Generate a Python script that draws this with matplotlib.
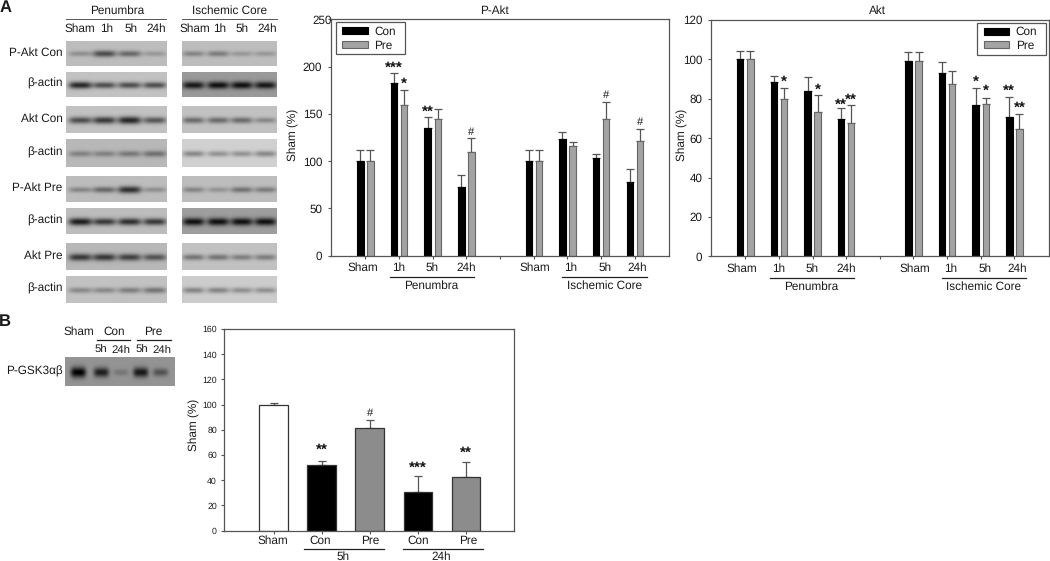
import numpy as np
import matplotlib
matplotlib.use("Agg")
import matplotlib.pyplot as plt
from matplotlib.patches import Rectangle
from matplotlib.transforms import ScaledTranslation

W, H = 1050, 561
plt.rcParams['font.family'] = ['Liberation Sans', 'DejaVu Sans']
plt.rcParams['font.size'] = 8.5
plt.rcParams['text.hinting'] = 'no_hinting'

# === Data ===
groups = [0, 1, 2, 3, 5, 6, 7, 8]
group_labels = ["Sham", "1h", "5h", "24h", "Sham", "1h", "5h", "24h"]
label_x = [-0.09, 0.99, 1.99, 3.0, 5.03, 6.1, 7.13, 8.07]

pakt_con = [100, 183, 135, 72.6, 100, 123, 103, 78]
pakt_con_top = [112, 193, 147, 85.6, 112, 130.5, 107, 91.6]
pakt_pre = [100, 159, 144, 109.7, 100, 116, 144, 121]
pakt_pre_top = [112, 175.5, 155, 124, 112, 120, 163, 134]
# (group, series, text, height)
pakt_marks = [(1, 0, "***", 200.6), (1, 1, "*", 183.7), (2, 0, "**", 154.8),
              (3, 1, "#", 132), (7, 1, "#", 170.6), (8, 1, "#", 142.8)]

akt_con = [100, 88.7, 83.8, 69.6, 99.4, 93, 76.8, 70.6]
akt_con_top = [104.3, 91.6, 90.9, 75.2, 103.8, 98.5, 85.3, 81]
akt_pre = [100, 79.7, 73.5, 67.9, 99.4, 87.5, 77.4, 64.7]
akt_pre_top = [104.3, 85.6, 81.8, 76.7, 103.8, 94.3, 80.4, 72.4]
akt_marks = [(1, 1, "*", 89.7), (2, 1, "*", 85.8), (3, 0, "**", 78.2), (3, 1, "**", 80.7),
             (7, 0, "*", 89.7), (7, 1, "*", 85), (8, 0, "**", 85.3), (8, 1, "**", 76.7)]

gsk_vals = [100, 52, 81.3, 31, 42.6]
gsk_top = [101.6, 55.6, 87.8, 43.4, 54.5]
gsk_colors = ["white", "black", "#8c8c8c", "black", "#8c8c8c"]
gsk_labels = ["Sham", "Con", "Pre", "Con", "Pre"]
gsk_label_x = [-0.03, 0.97, 2.0, 3.0, 4.05]
gsk_marks = [(1, "**", 66), (2, "#", 94), (3, "***", 51.6), (4, "**", 63.5)]

row_names = ["P-Akt Con", "β-actin", "Akt Con", "β-actin", "P-Akt Pre", "β-actin", "Akt Pre", "β-actin"]
row_tops = [41, 72, 106, 139, 176, 208, 243, 276]
row_bottoms = [66.5, 97, 133, 167, 202, 234, 270, 303]
pen_bg = [0.74, 0.76, 0.76, 0.72, 0.74, 0.74, 0.72, 0.76]
core_bg = [0.74, 0.60, 0.76, 0.82, 0.74, 0.62, 0.76, 0.80]
pen_bands = [[.25, .6, .45, .2], [.8, .6, .6, .6], [.6, .7, .8, .55], [.3, .3, .35, .4],
             [.3, .45, .75, .25], [.85, .7, .75, .7], [.7, .7, .65, .55], [.3, .3, .35, .4]]
core_bands = [[.3, .35, .2, .2], [.85, .9, .9, .85], [.45, .45, .45, .3], [.35, .3, .3, .35],
              [.3, .22, .4, .35], [.9, .9, .9, .9], [.4, .4, .35, .35], [.35, .35, .3, .3]]
gsk_blot = [1.0, .8, .2, .85, .45]
gsk_blot_x = [.12, .33, .51, .69, .87]

fig = plt.figure(figsize=(W / 100, H / 100), dpi=100)


def px_axes(l, t, r, b):
    return fig.add_axes([l / W, 1 - b / H, (r - l) / W, (b - t) / H])


def px_text(x, y, s, **kw):
    kw.setdefault("ha", "center")
    kw.setdefault("va", "center")
    fig.text(x / W, 1 - y / H, s, color="#1a1a1a", **kw)


def px_line(x0, x1, y, lw=0.9, color="#222222"):
    fig.add_artist(plt.Line2D([x0 / W, x1 / W], [1 - y / H, 1 - y / H], color=color, lw=lw))


def draw_blot(box, bg, bands, xs, sigma=0.085, half=0.115):
    ax = px_axes(*box)
    h, w = int(box[3] - box[1]) * 2, int(box[2] - box[0]) * 2
    yy, xx = np.mgrid[0:1:h * 1j, 0:1:w * 1j]
    img = np.full((h, w), float(bg))
    for pos, dark in zip(xs, bands):
        s = sigma * (0.7 + 0.6 * dark)
        shape = np.exp(-((xx - pos) / half) ** 4) * np.exp(-((yy - 0.53) / s) ** 2 / 2)
        img -= dark * bg * shape
    ax.imshow(img, cmap="gray", vmin=0, vmax=1, aspect="auto", interpolation="bilinear")
    ax.axis("off")


def style_axes(ax, ylim, yticks, tick_size, pad):
    ax.set_ylim(*ylim)
    ax.set_yticks(yticks)
    for s in ax.spines.values():
        s.set_color("#555555")
        s.set_linewidth(0.9)
    ax.tick_params(axis="y", length=2.5, width=0.8, color="#555555", labelsize=tick_size, pad=pad, labelcolor="#1a1a1a")
    ax.tick_params(axis="x", length=2.5, width=0.8, color="#555555", labelbottom=False)


def below(ax, x, dy, s, **kw):
    ax.annotate(s, (x, 0), xycoords=("data", "axes fraction"), xytext=(0, -dy), textcoords="offset pixels",
                ha="center", va="center", color="#1a1a1a", annotation_clip=False, **kw)


def under_line(ax, x0, x1, dy):
    h = ax.get_window_extent().height
    ax.plot([x0, x1], [-dy / h, -dy / h], transform=ax.get_xaxis_transform(), color="#222222", lw=0.9, clip_on=False)


def mark(ax, x, y, s):
    size, off = (11, -6) if "*" in s else (8, -4)
    ax.annotate(s, (x, y), xytext=(0, off), textcoords="offset pixels", ha="center", va="baseline",
                fontsize=size, fontweight="bold" if "*" in s else "normal", color="#111111")


def grouped_chart(ax, con, con_top, pre, pre_top, marks, ylim, yticks, legend_box):
    x = np.array(groups, dtype=float)
    for vals, top, off, fc, ec, name in [(con, con_top, -0.15, "black", "black", "Con"),
                                         (pre, pre_top, 0.15, "#a3a3a3", "#666666", "Pre")]:
        vals = np.array(vals)
        top = np.array(top)
        ax.bar(x + off, vals, 0.19, color=fc, edgecolor=ec, linewidth=0.8, label=name, zorder=2)
        ax.errorbar(x + off, vals, yerr=[np.zeros(len(vals)), top - vals], fmt="none", ecolor="#555555",
                    elinewidth=0.9, capsize=3.2, capthick=0.9, zorder=1)
    ax.set_xlim(-1.03, 9.03)
    ax.set_xticks(range(9))
    style_axes(ax, ylim, yticks, 8.4, 3.6)
    for g, series, s, y in marks:
        mark(ax, g - 0.15 + 0.3 * series, y, s)
    for lx, s in zip(label_x, group_labels):
        below(ax, lx, 12.5, s)
    under_line(ax, 0.73, 3.23, 21.5)
    under_line(ax, 5.85, 8.35, 21.5)
    below(ax, 1.96, 30.5, "Penumbra")
    below(ax, 7.09, 30.5, "Ischemic Core")
    # legend frame is wider than the entries, so frame and entries are placed apart
    lx, ly, lw, lh = legend_box
    fig.add_artist(Rectangle((lx / W, 1 - (ly + lh) / H), lw / W, lh / H, transform=fig.transFigure,
                             fill=False, edgecolor="#555555", linewidth=0.9))
    ax.legend(loc="upper left", bbox_to_anchor=((lx + 6.7) / W, 1 - (ly + 4) / H),
              bbox_transform=fig.transFigure, borderaxespad=0, borderpad=0, frameon=False,
              handlelength=2.15, handleheight=0.55, handletextpad=0.55,
              labelspacing=0.2, fontsize=8.5, labelcolor="#1a1a1a")


# === Panel A blots ===
px_text(5.5, 8, "A", fontsize=12, fontweight="bold")
px_text(117, 10.7, "Penumbra")
px_text(230, 10.7, "Ischemic Core")
px_line(66, 166.5, 19, lw=0.7, color="#555555")
px_line(181.7, 276.7, 19, lw=0.7, color="#555555")
for x, s in zip([80, 106.7, 131, 156.7, 195, 220, 242, 267], group_labels):
    px_text(x, 29, s)

pen_x = [.14, .38, .63, .88]
core_x = [.12, .38, .63, .88]
for i, name in enumerate(row_names):
    t, b = row_tops[i], row_bottoms[i]
    draw_blot((66, t, 166.5, b), pen_bg[i], pen_bands[i], pen_x)
    draw_blot((181.7, t, 276.7, b), core_bg[i], core_bands[i], core_x)
    px_text(62.5, (t + b) / 2 - 1, name, ha="right")

# === P-Akt and Akt charts ===
ax1 = px_axes(330.7, 19.3, 669.5, 255.6)
grouped_chart(ax1, pakt_con, pakt_con_top, pakt_pre, pakt_pre_top, pakt_marks,
              (0, 250), [0, 50, 100, 150, 200, 250], (335.7, 22.3, 69, 32))
top_label = ax1.get_yticklabels()[-1]
top_label.set_transform(top_label.get_transform() + ScaledTranslation(9.5 / 100, 0, fig.dpi_scale_trans))
px_text(494, 11, "P-Akt")
px_text(293, 135, "Sham (%)", rotation=90)

ax2 = px_axes(710.7, 20, 1049, 256.3)
grouped_chart(ax2, akt_con, akt_con_top, akt_pre, akt_pre_top, akt_marks,
              (0, 120), [0, 20, 40, 60, 80, 100, 120], (977.3, 22.6, 69, 32))
px_text(877, 11, "Akt")
px_text(682.5, 135, "Sham (%)", rotation=90)

# === Panel B ===
px_text(4.5, 322, "B", fontsize=12, fontweight="bold")
px_text(79, 332, "Sham")
px_text(114, 332, "Con")
px_text(153, 332, "Pre")
px_line(97, 130, 340)
px_line(136.7, 170.7, 340)
for x, s in zip([101, 121, 142, 162], ["5h", "24h", "5h", "24h"]):
    px_text(x, 350, s, fontsize=8.2)
px_text(63, 371, "P-GSK3αβ", ha="right")
draw_blot((65.3, 357, 175, 386), 0.58, gsk_blot, gsk_blot_x, sigma=0.1, half=0.07)

ax3 = px_axes(224.3, 329, 514, 530.7)
x = np.arange(len(gsk_vals))
vals = np.array(gsk_vals)
ax3.bar(x, vals, 0.6, color=gsk_colors, edgecolor="#333333", linewidth=0.9, zorder=2)
ax3.errorbar(x, vals, yerr=[np.zeros(len(vals)), np.array(gsk_top) - vals], fmt="none", ecolor="#555555",
             elinewidth=0.9, capsize=3.2, capthick=0.9, zorder=1)
ax3.set_xlim(-1.03, 5)
ax3.set_xticks(x)
style_axes(ax3, (0, 160), list(range(0, 161, 20)), 6.3, 2.8)
for g, s, y in gsk_marks:
    mark(ax3, g, y, s)
for lx, s in zip(gsk_label_x, gsk_labels):
    below(ax3, lx, 10.5, s)
under_line(ax3, 0.625, 2.29, 18)
under_line(ax3, 2.68, 4.35, 18)
below(ax3, 1.45, 26, "5h")
below(ax3, 3.48, 26, "24h")
px_text(194, 425, "Sham (%)", rotation=90)

fig.savefig("out.png", dpi=100)
